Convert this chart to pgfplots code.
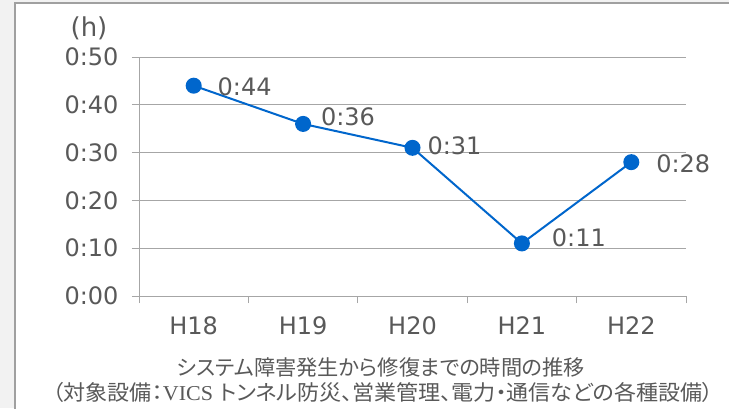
\documentclass[border=0pt]{standalone}
\usepackage{pgfplots}
\pgfplotsset{compat=1.18}
\usepackage{fontspec}
\setmainfont{DejaVu Sans}
\newfontfamily\jp[RawFeature=+palt]{Noto Sans CJK JP}
\newfontfamily\lat{Liberation Serif}
\definecolor{txt}{HTML}{595959}
\definecolor{gridc}{HTML}{A6A6A6}
\definecolor{linec}{HTML}{0066CC}
\definecolor{bgc}{HTML}{F2F2F2}
\definecolor{framec}{HTML}{A0A0A0}
\begin{document}
\begin{tikzpicture}[x=1pt,y=1pt]
\useasboundingbox (0,0) rectangle (729,408);
\fill[bgc] (0,0) rectangle (729,408);
\fill[white] (15,0) rectangle (729,405);
\draw[framec,line width=1.5pt] (15,-2) -- (15,405) -- (731,405);
\begin{axis}[
  at={(139pt,112pt)}, anchor=south west,
  scale only axis, width=547pt, height=239pt,
  xmin=-0.5, xmax=4.5, ymin=0, ymax=50,
  axis x line=bottom, axis y line=left,
  axis line style={-, draw=gridc, line width=1pt},
  xtick={0,1,2,3,4},
  xticklabels={H18,H19,H20,H21,H22},
  minor xtick={-0.5,0.5,1.5,2.5,3.5,4.5},
  ytick={0,10,20,30,40,50},
  yticklabels={0:00,0:10,0:20,0:30,0:40,0:50},
  tick align=outside,
  major tick length=7pt, minor tick length=7pt,
  major x tick style={draw=none},
  minor x tick style={draw=gridc, line width=1pt},
  major y tick style={draw=gridc, line width=1pt},
  ymajorgrids, grid style={draw=gridc, line width=1pt},
  ticklabel style={font=\fontsize{24}{28}\selectfont, text=txt},
  yticklabel style={xshift=-10pt},
  xticklabel style={yshift=-10pt},
  clip=false,
]
\addplot[color=linec, line width=2pt, mark=*, mark size=7pt,
  mark options={fill=linec, draw=linec},
  point meta=explicit symbolic,
  visualization depends on={value \thisrow{dx} \as \dx},
  visualization depends on={value \thisrow{dy} \as \dy},
  nodes near coords,
  every node near coord/.style={anchor=west, inner sep=0pt,
    xshift=\dx pt, yshift=\dy pt,
    font=\fontsize{24}{28}\selectfont, text=txt},
] table[x=x, y=y, meta=lab] {
x y lab dx dy
0 44 0:44 23 -1
1 36 0:36 17 7
2 31 0:31 14 2
3 11 0:11 29 6
4 28 0:28 24 -1.5
};
\end{axis}
\node[text=txt, font=\fontsize{26}{30}\selectfont] at (89,380) {(h)};
\node[text=txt, font=\jp\fontsize{21.2}{24}\selectfont] at (381,41) {システム障害発生から修復までの時間の推移};
\node[text=txt, font=\jp\fontsize{21.2}{24}\selectfont, xscale=1.04] at (383,16) {（対象設備：{\lat VICS}\hspace{6pt}トンネル防災、営業管理、電力・通信などの各種設備）};
\end{tikzpicture}
\end{document}
